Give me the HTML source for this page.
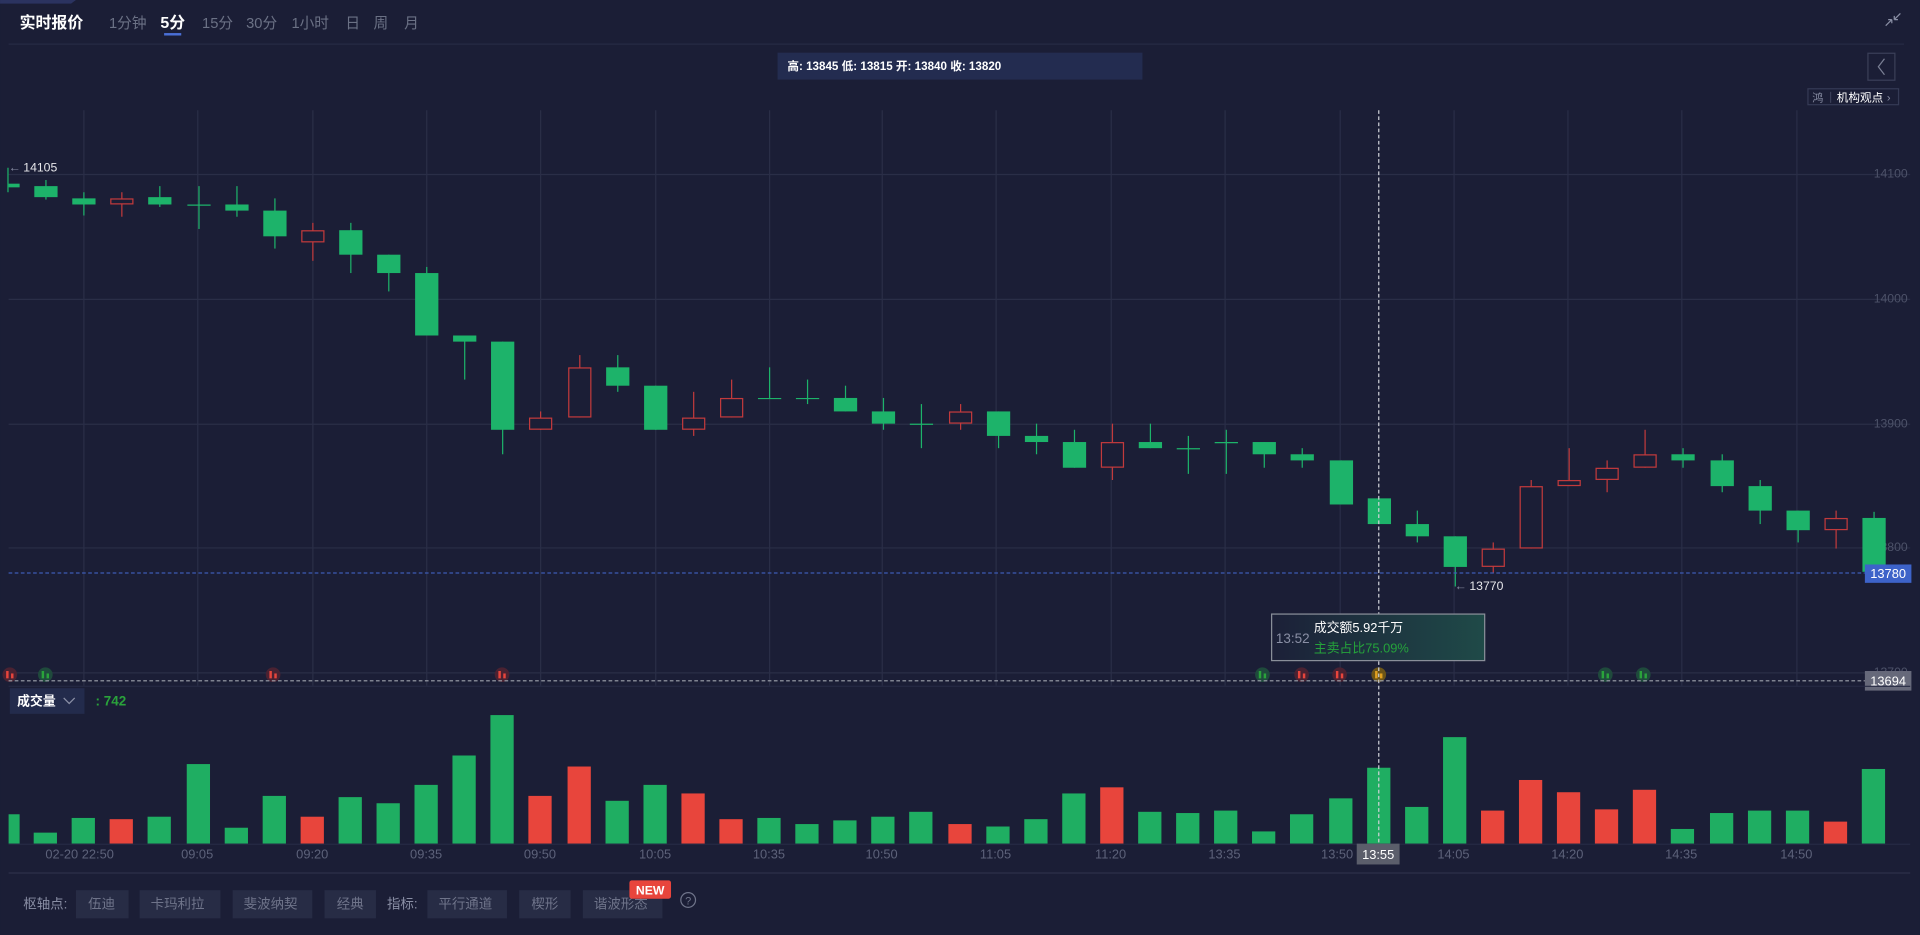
<!DOCTYPE html>
<html><head><meta charset="utf-8"><style>
html,body{margin:0;padding:0;background:#1b1e36;width:1920px;height:935px;overflow:hidden}
svg{display:block}
text{font-family:"Liberation Sans","Noto Sans CJK SC",sans-serif}
</style></head><body>
<svg id="s" width="1920" height="935" viewBox="0 0 1568 763.6" xmlns="http://www.w3.org/2000/svg">
<rect width="1568" height="764" fill="#1b1e36"/>
<polygon points="0,0 62,0 58,3 0,3" fill="#2b3360"/>
<text x="16" y="23" fill="#fff" font-size="13" font-weight="bold">实时报价</text>
<g font-size="12" fill="#6b7185">
<text x="89" y="23">1分钟</text>
<text x="131" y="23" fill="#fff" font-weight="bold" font-size="13">5分</text>
<text x="165" y="23">15分</text><text x="201" y="23">30分</text><text x="238" y="23">1小时</text>
<text x="282" y="23">日</text><text x="305" y="23">周</text><text x="330" y="23">月</text>
</g>
<rect x="134" y="27" width="14" height="2" fill="#4a6fd6"/>
<line x1="7" y1="36" x2="1555" y2="36" stroke="#262a44"/>
<path d="M1540 21 L1545 16 M1545 16 L1545 19 M1545 16 L1542 16 M1552 11 L1547 16 M1547 16 L1547 13 M1547 16 L1550 16" stroke="#8a8fa5" stroke-width="1" fill="none"/>
<rect x="635" y="43" width="298" height="22" fill="#232c50"/>
<text x="643" y="57" fill="#fff" font-size="9.5" font-weight="bold">高: 13845 低: 13815 开: 13840 收: 13820</text>
<rect x="1525.5" y="43.5" width="22" height="22" fill="none" stroke="#3a3f58"/>
<path d="M1539 48 L1534 54.5 L1539 61" stroke="#7a7f94" fill="none"/>
<rect x="1476.5" y="72.5" width="74" height="13" fill="none" stroke="#353a55"/>
<text x="1480" y="83" fill="#8a8fa5" font-size="9">鸿</text>
<line x1="1495" y1="75" x2="1495" y2="84" stroke="#3a3f58"/>
<text x="1500" y="83" fill="#fff" font-size="9.5">机构观点</text>
<text x="1541" y="83" fill="#8a8fa5" font-size="9">›</text>
<g id="grid" stroke="#2a2e47" stroke-width="1"></g>
<g font-size="10" fill="#4d5269" text-anchor="end">
<text x="1558" y="145">14100</text><text x="1558" y="247">14000</text><text x="1558" y="349">13900</text><text x="1558" y="450">13800</text><text x="1558" y="552">13700</text>
</g>
<g id="c"></g>
<line x1="7" y1="468" x2="1523" y2="468" stroke="#3d5bb5" stroke-dasharray="3,2"/>
<rect x="1523" y="461" width="38" height="15" fill="#3d63c9"/>
<text x="1542" y="472" fill="#fff" font-size="10.5" text-anchor="middle">13780</text>
<g id="sig"></g>
<line x1="7" y1="556" x2="1523" y2="556" stroke="#a0a3ad" stroke-dasharray="3,2"/>
<rect x="1523" y="548" width="38" height="16" fill="#66697a"/>
<text x="1542" y="560" fill="#fff" font-size="10.5" text-anchor="middle">13694</text>
<line x1="7" y1="560.5" x2="1560" y2="560.5" stroke="#262a44"/>
<text x="7" y="140" fill="#8a8fa5" font-size="10">←</text><text x="19" y="140" fill="#e6e6ea" font-size="10">14105</text>
<text x="1188" y="482" fill="#8a8fa5" font-size="10">←</text><text x="1200" y="482" fill="#e6e6ea" font-size="10">13770</text>
<rect x="8" y="562" width="61" height="21" fill="#232b4c"/>
<text x="14" y="576" fill="#fff" font-size="10.5" font-weight="bold">成交量</text>
<path d="M52 570 L56.5 574.5 L61 570" stroke="#8a8fa5" fill="none"/>
<text x="78" y="576" fill="#2aa33b" font-size="11" font-weight="bold">: 742</text>
<g id="v"></g>
<line x1="7" y1="689.5" x2="1560" y2="689.5" stroke="#262a44"/>
<g font-size="10.5" fill="#5d627a" text-anchor="middle">
<text x="65" y="701">02-20 22:50</text><text x="161" y="701">09:05</text><text x="255" y="701">09:20</text><text x="348" y="701">09:35</text><text x="441" y="701">09:50</text><text x="535" y="701">10:05</text><text x="628" y="701">10:35</text><text x="720" y="701">10:50</text><text x="813" y="701">11:05</text><text x="907" y="701">11:20</text><text x="1000" y="701">13:35</text><text x="1092" y="701">13:50</text><text x="1187" y="701">14:05</text><text x="1280" y="701">14:20</text><text x="1373" y="701">14:35</text><text x="1467" y="701">14:50</text>
</g>
<line x1="1126" y1="90" x2="1126" y2="689" stroke="#d0d2d8" stroke-dasharray="3,2"/>
<rect x="1108" y="689" width="35" height="17" fill="#5b5e6b"/>
<text x="1125.5" y="701.5" fill="#fff" font-size="10.5" text-anchor="middle">13:55</text>
<defs><linearGradient id="tg" x1="0" x2="1"><stop offset="0" stop-color="#1c2038"/><stop offset="1" stop-color="#1f4a48"/></linearGradient></defs>
<rect x="1038.5" y="501.5" width="174" height="38" fill="url(#tg)" stroke="#8a8f9a"/>
<text x="1042" y="525" fill="#8a8fa5" font-size="11">13:52</text>
<text x="1073" y="516" fill="#fff" font-size="10.5">成交额5.92千万</text>
<text x="1073" y="533" fill="#25a33b" font-size="10.5">主卖占比75.09%</text>
<line x1="7" y1="713" x2="1560" y2="713" stroke="#2c3049"/>
<g font-size="11" fill="#6f748a">
<text x="19" y="742" fill="#8a8fa5">枢轴点:</text>
<rect x="62" y="727" width="43" height="23" fill="#272c45"/><text x="72" y="742">伍迪</text>
<rect x="114" y="727" width="66" height="23" fill="#272c45"/><text x="123" y="742">卡玛利拉</text>
<rect x="190" y="727" width="65" height="23" fill="#272c45"/><text x="199" y="742">斐波纳契</text>
<rect x="265" y="727" width="42" height="23" fill="#272c45"/><text x="275" y="742">经典</text>
<text x="316" y="742" fill="#8a8fa5">指标:</text>
<rect x="349" y="727" width="65" height="23" fill="#272c45"/><text x="358" y="742">平行通道</text>
<rect x="424" y="727" width="42" height="23" fill="#272c45"/><text x="434" y="742">楔形</text>
<rect x="476" y="727" width="65" height="23" fill="#272c45"/><text x="485" y="742">谐波形态</text>
</g>
<rect x="514" y="719" width="34" height="15" rx="2" fill="#e8453c"/>
<text x="531" y="730.5" fill="#fff" font-size="10" font-weight="bold" text-anchor="middle">NEW</text>
<circle cx="562" cy="735" r="6" fill="none" stroke="#6f748a"/>
<text x="562" y="738.5" fill="#6f748a" font-size="9" text-anchor="middle">?</text>
</svg>
<script>
var NS="http://www.w3.org/2000/svg";
function el(p,t,a){var e=document.createElementNS(NS,t);for(var k in a)e.setAttribute(k,a[k]);document.getElementById(p).appendChild(e);return e;}
var gx=[68,161,255,348,441,535,628,720,813,907,1000,1094,1187,1280,1373,1467];
gx.forEach(function(x){el("grid","line",{x1:x+.5,y1:90,x2:x+.5,y2:560});});
[142,244,346,447,549].forEach(function(y){el("grid","line",{x1:7,y1:y+.5,x2:1560,y2:y+.5});});
var C=[["G",150,153,137,157],["G",152,161,147,163],["G",162,167,157,176],["R",162,167,157,177],["G",161,167,152,169],["G",167,167,152,187],["G",167,172,152,177],["G",172,193,162,203],["R",188,198,182,213],["G",188,208,182,223],["G",208,223,208,238],["G",223,274,218,274],["G",274,279,274,310],["G",279,351,279,371],["R",341,351,336,351],["R",300,341,290,341],["G",300,315,290,320],["G",315,351,315,351],["R",341,351,320,356],["R",325,341,310,341],["G",325,325,300,325],["G",325,325,310,330],["G",325,336,315,336],["G",336,346,325,351],["G",346,346,330,366],["R",336,346,330,351],["G",336,356,336,366],["G",356,361,346,371],["G",361,382,351,382],["R",361,382,346,392],["G",361,366,346,366],["G",366,366,356,387],["G",361,361,351,387],["G",361,371,361,382],["G",371,376,366,382],["G",376,412,376,412],["G",407,428,407,428],["G",428,438,417,443],["G",438,463,438,479],["R",448,463,443,468],["R",397,448,392,448],["R",392,397,366,397],["R",382,392,376,402],["R",371,382,351,382],["G",371,376,366,382],["G",376,397,371,402],["G",397,417,392,428],["G",417,433,417,443],["R",423,433,417,448],["G",423,467,418,467]];
var V=[665,680,668,669,667,624,676,650,667,651,656,641,617,584,650,626,654,641,648,669,668,673,670,667,663,673,675,669,648,643,663,664,662,679,665,652,627,659,602,662,637,647,661,645,677,664,662,662,671,628];
var GC="#1db36a",RC="#c23a3c";
C.forEach(function(c,i){
 var x=Math.round(6+31.1*i);var col=c[0]=="G"?GC:RC;
 el("c","line",{x1:x+.5,y1:c[3],x2:x+.5,y2:c[4],stroke:col});
 var h=c[2]-c[1];
 if(c[0]=="G"){ if(h<1){el("c","line",{x1:x-9,y1:c[1]+.5,x2:x+10,y2:c[1]+.5,stroke:col});}
   else el("c","rect",{x:Math.max(x-9,7),y:c[1],width:(i==0?x+10-7:19),height:h,fill:col});}
 else el("c","rect",{x:x-8.5,y:c[1]+.5,width:18,height:Math.max(h-1,1),fill:"#1b1e36",stroke:col});
 var vx=i==0?7:x-9.5, vw=i==0?9:19;
 el("v","rect",{x:vx,y:V[i],width:vw,height:689-V[i],fill:c[0]=="G"?"#1fae62":"#e8453c"});
});
var S=[[8,"r"],[37,"g"],[223,"r"],[410,"r"],[1031,"g"],[1063,"r"],[1094,"r"],[1126,"y"],[1311,"g"],[1342,"g"]];
S.forEach(function(s){var bg=s[1]=="g"?"#1f4a3c":s[1]=="r"?"#4a2232":"#6b5418";var fg=s[1]=="g"?"#2aa33b":s[1]=="r"?"#e8453c":"#e0a020";
 el("sig","circle",{cx:s[0],cy:551,r:6,fill:bg});
 el("sig","rect",{x:s[0]-3,y:548,width:2,height:6,fill:fg});el("sig","rect",{x:s[0]+1,y:550,width:2,height:4,fill:fg});});
</script>
</body></html>
